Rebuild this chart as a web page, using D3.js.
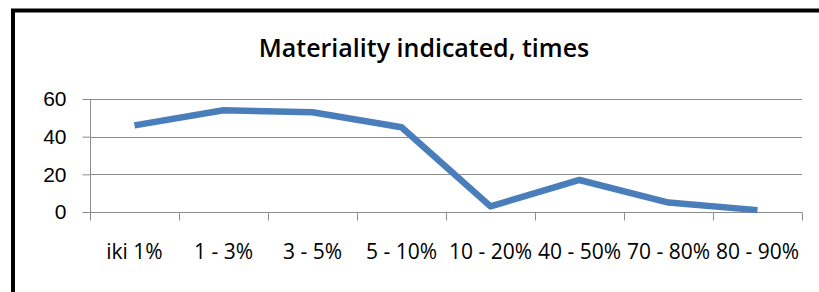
<!DOCTYPE html>
<html>
<head>
<meta charset="utf-8">
<script src="https://cdn.jsdelivr.net/npm/d3@7"></script>
<style>
  body { margin: 0; background: #fff; }
  svg { display: block; font-family: "Open Sans", "Liberation Sans", Arial, sans-serif; }
  .grid line { stroke: #8c8c8c; }
  .axis path, .axis line { stroke: #8c8c8c; }
  .axis text { fill: #000; font-size: 21px; }
</style>
</head>
<body>
<svg width="819" height="292"></svg>
<script>
var canvas = d3.select("svg");

var categories = ["iki 1%", "1 - 3%", "3 - 5%", "5 - 10%", "10 - 20%", "40 - 50%", "70 - 80%", "80 - 90%"];
var values = [46, 54, 53, 45, 3, 17, 5, 1];
var yTicks = [0, 20, 40, 60];
var chartTitle = "Materiality indicated, times";

var margin = { top: 99, left: 90, right: 17, bottom: 80 };
var iInnerWidth = 819 - margin.left - margin.right;
var iInnerHeight = 292 - margin.top - margin.bottom;

// outer frame, runs off the right and bottom edge
canvas.append("rect")
    .attr("x", 13)
    .attr("y", 10.5)
    .attr("width", 830)
    .attr("height", 320)
    .attr("fill", "none")
    .attr("stroke", "#000")
    .attr("stroke-width", 4);

canvas.append("text")
    .attr("x", 424)
    .attr("y", 57)
    .attr("text-anchor", "middle")
    .style("font-size", "25px")
    .style("font-weight", "600")
    .text(chartTitle);

var xScale = d3.scaleBand()
    .domain(categories)
    .range([0, iInnerWidth]);

var yScale = d3.scaleLinear()
    .domain([0, 60])
    .range([iInnerHeight, 0]);

var g = canvas.append("g")
    .attr("transform", `translate(${margin.left},${margin.top})`);

// gridlines
g.append("g").attr("class", "grid")
    .selectAll("line")
    .data(yTicks)
    .enter()
    .append("line")
    .attr("x1", 0)
    .attr("x2", iInnerWidth)
    .attr("y1", d => Math.round(yScale(d)) + 0.5)
    .attr("y2", d => Math.round(yScale(d)) + 0.5);

var yAxis = g.append("g").attr("class", "axis")
    .attr("transform", "translate(0.5,0)")
    .call(d3.axisLeft(yScale).tickValues(yTicks).tickSize(8).tickPadding(16).tickFormat(d3.format("d")));
yAxis.select(".domain").remove();
yAxis.append("line")
    .attr("y1", 0).attr("y2", iInnerHeight)
    .attr("stroke", "#8c8c8c");

// x axis ticks sit on the band boundaries
var xAxis = g.append("g").attr("class", "axis")
    .attr("transform", `translate(0,${iInnerHeight + 0.5})`);
xAxis.append("line")
    .attr("x1", 0).attr("x2", iInnerWidth)
    .attr("stroke", "#8c8c8c");
xAxis.selectAll(".tk")
    .data(categories.concat(["end"]))
    .enter()
    .append("line")
    .attr("class", "tk")
    .attr("x1", (d, i) => Math.round(i * xScale.step()) + 0.5)
    .attr("x2", (d, i) => Math.round(i * xScale.step()) + 0.5)
    .attr("y1", 0)
    .attr("y2", 8)
    .attr("stroke", "#8c8c8c");
xAxis.selectAll("text")
    .data(categories)
    .enter()
    .append("text")
    .attr("x", d => xScale(d) + xScale.bandwidth() / 2)
    .attr("y", 46)
    .attr("text-anchor", "middle")
    .text(d => d);

var line = d3.line()
    .x((d, i) => xScale(categories[i]) + xScale.bandwidth() / 2)
    .y(d => yScale(d));

g.append("path")
    .datum(values)
    .attr("d", line)
    .attr("fill", "none")
    .attr("stroke", "#4a7ebb")
    .attr("stroke-width", 6.5)
    .attr("stroke-linejoin", "round");
</script>
</body>
</html>
